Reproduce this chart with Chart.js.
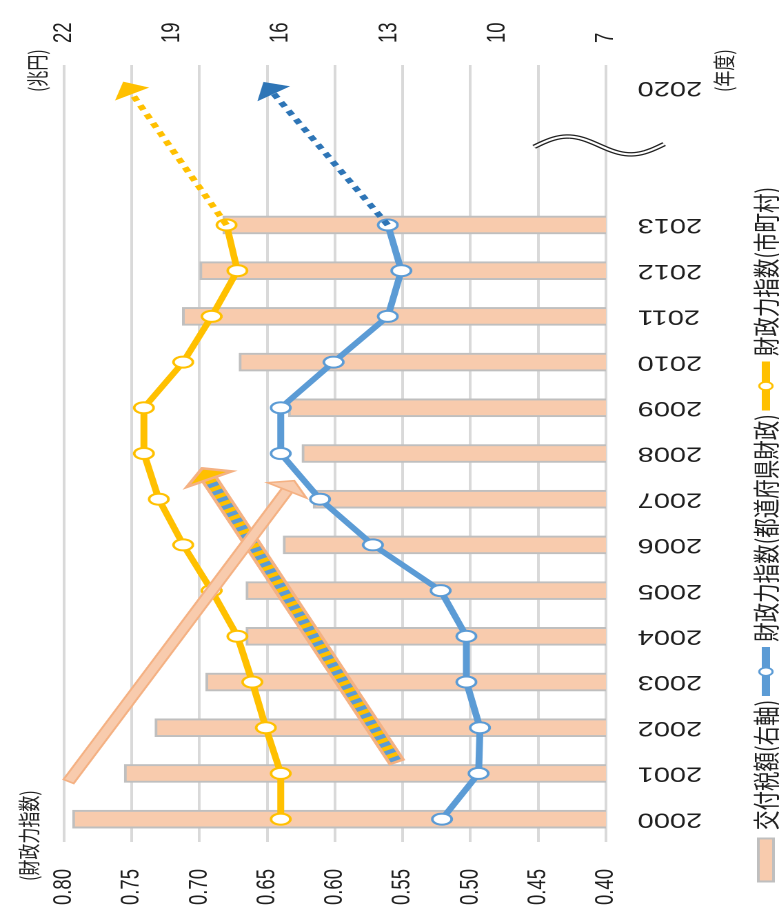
<!DOCTYPE html>
<html>
<head>
<meta charset="utf-8">
<script src="https://cdn.jsdelivr.net/npm/chart.js@4/dist/chart.umd.min.js"></script>
<style>
  html, body { margin: 0; padding: 0; background: #fff; overflow: hidden; width: 779px; height: 924px; }
  /* the chart is drawn upright (924 x 565) and then turned a quarter turn anticlockwise and widened */
  #wrap { position: absolute; left: 0; top: 0; width: 924px; height: 565px;
          transform-origin: 0 0; transform: matrix(0, -1, 1.3788, 0, 0, 924); }
  canvas { display: block; }
</style>
</head>
<body>
<div id="wrap"><canvas id="c" width="924" height="565" style="width:924px;height:565px"></canvas></div>
<script>
// ---------------- data ----------------
const categories = ['2000','2001','2002','2003','2004','2005','2006','2007','2008','2009','2010','2011','2012','2013','','','2020'];
const grantTotal = [21.76, 20.33, 19.48, 18.07, 16.96, 16.96, 15.93, 15.10, 15.41, 15.79, 17.15, 18.72, 18.24, 17.60, null, null, null];
const prefIndex  = [0.521, 0.494, 0.493, 0.503, 0.503, 0.522, 0.572, 0.611, 0.640, 0.640, 0.601, 0.561, 0.551, 0.561, null, null, null];
const muniIndex  = [0.640, 0.640, 0.651, 0.661, 0.672, 0.691, 0.712, 0.730, 0.741, 0.741, 0.712, 0.691, 0.672, 0.680, null, null, null];
const prefTrend  = [null, null, null, null, null, null, null, null, null, null, null, null, null, 0.561, null, null, 0.649];
const muniTrend  = [null, null, null, null, null, null, null, null, null, null, null, null, null, 0.680, null, null, 0.753];
const leftTickValues  = [0.40, 0.45, 0.50, 0.55, 0.60, 0.65, 0.70, 0.75, 0.80];
const rightTickValues = [7, 10, 13, 16, 19, 22];
const seriesNames = ['交付税額(右軸)', '財政力指数(都道府県財政)', '財政力指数(市町村)'];
const unitLeft = '(財政力指数)';
const unitRight = '(兆円)';
const unitYear = '(年度)';

// annotation anchors in data units: [category index, 財政力指数]
const pinkArrow   = [[0.81, 0.797], [7.405, 0.630]];
const stripeArrow = [[1.23, 0.554], [7.676, 0.698]];
const breakWave   = { from: [14.71, 0.453], to: [14.77, 0.357], swing: 0.21 };

// ---------------- styles ----------------
const C_BAR = '#F8CBAD', C_BAR_EDGE = '#BFBFBF';
const C_BLUE = '#5B9BD5', C_BLUE_DARK = '#2E75B6', C_YELLOW = '#FFC000';
const C_SALMON = '#F4B183';
const TXT = '#1f1f1f';
const NUM_FONT = "'Liberation Sans', Arial, sans-serif";
const JP_FONT = "'Noto Sans CJK JP', 'Noto Sans', sans-serif";

const SS = 3;
function makeImage(w, h, draw) {
  return new Promise(resolve => {
    const c = document.createElement('canvas');
    c.width = Math.round(w * SS); c.height = Math.round(h * SS);
    const g = c.getContext('2d');
    g.scale(SS, SS);
    draw(g, w, h);
    const img = new Image();
    img.onload = () => { img.width = w; img.height = h; resolve(img); };
    img.src = c.toDataURL();
  });
}
function ellipseMarker(color, rx, ry, lw) {
  const w = 2 * rx + lw + 1, h = 2 * ry + lw + 1;
  return makeImage(w, h, g => {
    g.beginPath(); g.ellipse(w / 2, h / 2, rx, ry, 0, 0, Math.PI * 2);
    g.fillStyle = '#fff'; g.fill();
    g.lineWidth = lw; g.strokeStyle = color; g.stroke();
  });
}
function lineSwatch(color) {
  const w = 49, h = 16;
  return makeImage(w, h, g => {
    g.beginPath(); g.moveTo(0, h / 2); g.lineTo(w, h / 2);
    g.lineWidth = 6; g.strokeStyle = color; g.lineCap = 'round'; g.stroke();
    g.beginPath(); g.ellipse(w / 2, h / 2, 4, 4.8, 0, 0, Math.PI * 2);
    g.fillStyle = '#fff'; g.fill(); g.lineWidth = 1.6; g.strokeStyle = color; g.stroke();
  });
}
function barSwatch() {
  const w = 45, h = 13;
  return makeImage(w, h, g => {
    g.fillStyle = C_BAR; g.fillRect(1, 1, w - 2, h - 2);
    g.lineWidth = 2; g.strokeStyle = C_BAR_EDGE; g.strokeRect(1, 1, w - 2, h - 2);
  });
}
function arrowHead(color) {
  const w = 28, h = 14;
  return makeImage(w, h, g => {
    g.beginPath(); g.moveTo(w / 2, 0); g.lineTo(w, h); g.lineTo(0, h); g.closePath();
    g.fillStyle = color; g.fill();
  });
}

function trendRotation(c) {
  const ch = c.chart, xs = ch.scales.x, ys = ch.scales.y;
  const d = ch.data.datasets[c.datasetIndex].data;
  const x0 = xs.getPixelForValue(13), y0 = ys.getPixelForValue(d[13]);
  const x1 = xs.getPixelForValue(16), y1 = ys.getPixelForValue(d[16]);
  return Math.atan2(x1 - x0, y0 - y1) * 180 / Math.PI;
}

function drawArrow(ctx, p0, p1, o) {
  const dx = p1[0] - p0[0], dy = p1[1] - p0[1], L = Math.hypot(dx, dy);
  const ux = dx / L, uy = dy / L, nx = -uy, ny = ux;
  const bx = p1[0] - ux * o.headLen, by = p1[1] - uy * o.headLen;
  ctx.save();
  ctx.lineCap = 'butt';
  ctx.beginPath(); ctx.moveTo(p0[0], p0[1]); ctx.lineTo(bx + ux, by + uy);
  ctx.strokeStyle = o.edge; ctx.lineWidth = o.width; ctx.stroke();
  ctx.beginPath(); ctx.moveTo(p0[0] + ux * o.edgeW, p0[1] + uy * o.edgeW); ctx.lineTo(bx, by);
  ctx.strokeStyle = o.fill; ctx.lineWidth = o.width - 2 * o.edgeW; ctx.stroke();
  if (o.stripe) {
    ctx.setLineDash(o.dash); ctx.strokeStyle = o.stripe; ctx.stroke(); ctx.setLineDash([]);
  }
  ctx.beginPath();
  ctx.moveTo(p1[0], p1[1]);
  ctx.lineTo(bx + nx * o.headW / 2, by + ny * o.headW / 2);
  ctx.lineTo(bx - nx * o.headW / 2, by - ny * o.headW / 2);
  ctx.closePath();
  ctx.fillStyle = o.headFill; ctx.fill();
  ctx.lineJoin = 'miter'; ctx.lineWidth = o.edgeW; ctx.strokeStyle = o.edge; ctx.stroke();
  ctx.restore();
}

const decorations = {
  id: 'decorations',
  afterLayout(chart) {
    // legend row starts where the reference legend starts, independent of the axis box
    if (chart.legend) { chart.legend.left = 36; }
  },
  afterDatasetsDraw(chart) {
    const ctx = chart.ctx, xs = chart.scales.x, ys = chart.scales.y;
    const P = p => [xs.getPixelForValue(p[0]), ys.getPixelForValue(p[1])];
    drawArrow(ctx, P(stripeArrow[0]), P(stripeArrow[1]), {
      width: 13, edgeW: 2.5, edge: C_SALMON, fill: C_YELLOW, stripe: C_BLUE, dash: [4, 4],
      headLen: 12, headW: 36, headFill: C_YELLOW });
    drawArrow(ctx, P(pinkArrow[0]), P(pinkArrow[1]), {
      width: 10, edgeW: 1.6, edge: C_SALMON, fill: C_BAR,
      headLen: 11, headW: 32, headFill: C_BAR });
    // axis break mark
    const pts = [];
    for (let k = 0; k <= 40; k++) {
      const t = k / 40;
      const i = breakWave.from[0] + (breakWave.to[0] - breakWave.from[0]) * t + breakWave.swing * Math.sin(2 * Math.PI * t);
      const v = breakWave.from[1] + (breakWave.to[1] - breakWave.from[1]) * t;
      pts.push([xs.getPixelForValue(i), ys.getPixelForValue(v)]);
    }
    ctx.save();
    ctx.lineCap = 'butt'; ctx.lineJoin = 'round';
    const path = () => { ctx.beginPath(); pts.forEach((p, k) => k ? ctx.lineTo(p[0], p[1]) : ctx.moveTo(p[0], p[1])); };
    path(); ctx.strokeStyle = '#222'; ctx.lineWidth = 4.5; ctx.stroke();
    path(); ctx.strokeStyle = '#fff'; ctx.lineWidth = 2; ctx.stroke();
    ctx.restore();
  },
  afterDraw(chart) {
    const ctx = chart.ctx, a = chart.chartArea;
    ctx.save();
    ctx.fillStyle = TXT; ctx.font = `16px ${JP_FONT}`; ctx.textBaseline = 'middle'; ctx.textAlign = 'left';
    ctx.fillText(unitLeft, 43, 21);
    ctx.fillText(unitRight, a.right - 27, 27);
    ctx.fillText(unitYear, a.right - 27, 525);
    ctx.restore();
  }
};

Promise.all([
  ellipseMarker(C_BLUE, 5.5, 7.3, 2),
  ellipseMarker(C_YELLOW, 5.5, 7.3, 2),
  arrowHead(C_BLUE_DARK),
  arrowHead(C_YELLOW),
  barSwatch(), lineSwatch(C_BLUE), lineSwatch(C_YELLOW)
]).then(([mBlue, mYellow, hBlue, hYellow, swBar, swBlue, swYellow]) => {
  const legendImgs = [swBar, swBlue, swYellow];
  new Chart(document.getElementById('c'), {
    type: 'bar',
    data: {
      labels: categories,
      datasets: [
        { type: 'bar', label: seriesNames[0], data: grantTotal, yAxisID: 'y1',
          backgroundColor: C_BAR, borderColor: C_BAR_EDGE, borderWidth: 2, borderSkipped: 'start',
          barThickness: 18, order: 3 },
        { type: 'line', label: seriesNames[1], data: prefIndex, yAxisID: 'y',
          borderColor: C_BLUE, borderWidth: 5, tension: 0, pointStyle: mBlue, pointRadius: 6, order: 2 },
        { type: 'line', label: seriesNames[2], data: muniIndex, yAxisID: 'y',
          borderColor: C_YELLOW, borderWidth: 5, tension: 0, pointStyle: mYellow, pointRadius: 6, order: 2 },
        { type: 'line', label: 'trend-pref', data: prefTrend, yAxisID: 'y', spanGaps: true,
          borderColor: C_BLUE_DARK, borderWidth: 5, borderDash: [5, 5], borderCapStyle: 'butt',
          pointStyle: hBlue, pointRadius: c => c.dataIndex === 16 ? 6 : 0, pointRotation: trendRotation, order: 1 },
        { type: 'line', label: 'trend-muni', data: muniTrend, yAxisID: 'y', spanGaps: true,
          borderColor: C_YELLOW, borderWidth: 5, borderDash: [5, 5], borderCapStyle: 'butt',
          pointStyle: hYellow, pointRadius: c => c.dataIndex === 16 ? 6 : 0, pointRotation: trendRotation, order: 1 }
      ]
    },
    options: {
      responsive: false,
      devicePixelRatio: 2,
      animation: false,
      events: [],
      layout: { padding: { left: 4, right: 0, top: 46.4, bottom: 0 } },
      scales: {
        x: {
          offset: true,
          grid: { display: false },
          border: { display: false },
          ticks: { autoSkip: false, minRotation: 90, maxRotation: 90, padding: 15,
                   color: TXT, font: { family: NUM_FONT, size: 21 } },
          afterFit: s => { s.height = 98.25; }
        },
        y: {
          position: 'left', min: 0.40, max: 0.80,
          grid: { color: '#D9D9D9', lineWidth: 2, drawTicks: false },
          border: { display: false },
          ticks: { padding: 27, color: TXT, font: { family: NUM_FONT, size: 18.5 },
                   callback: v => Number(v).toFixed(2) },
          afterBuildTicks: s => { s.ticks = leftTickValues.map(v => ({ value: v })); },
          afterFit: s => { s.width = 78; }
        },
        y1: {
          position: 'right', min: 7, max: 22,
          grid: { display: false, drawTicks: false },
          border: { display: false },
          ticks: { padding: 22, color: TXT, font: { family: NUM_FONT, size: 18.5 },
                   callback: v => String(v) },
          afterBuildTicks: s => { s.ticks = rightTickValues.map(v => ({ value: v })); },
          afterFit: s => { s.width = 65; }
        }
      },
      plugins: {
        tooltip: { enabled: false },
        legend: {
          position: 'bottom', align: 'start', maxHeight: 27.25,
          labels: {
            usePointStyle: true, pointStyleWidth: 40.25, boxHeight: 13, padding: 8,
            color: TXT, font: { family: JP_FONT, size: 19.5 },
            generateLabels: () => seriesNames.map((t, i) => ({
              text: t, pointStyle: legendImgs[i], datasetIndex: i, hidden: false,
              fillStyle: '#fff', strokeStyle: '#fff', lineWidth: 0, fontColor: TXT
            }))
          }
        }
      }
    },
    plugins: [decorations]
  });
});
</script>
</body>
</html>
